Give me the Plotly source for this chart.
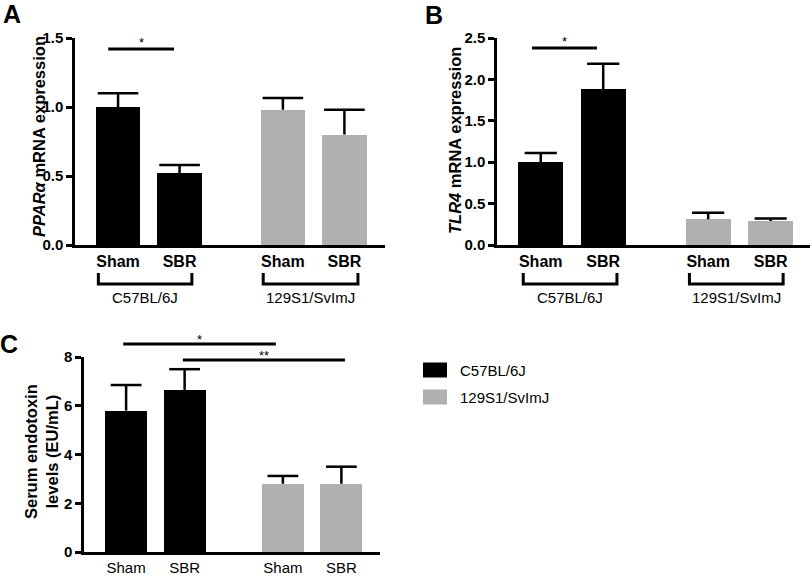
import plotly.graph_objects as go

# ---------------- data ----------------
groups = ["Sham", "SBR", "Sham", "SBR"]
strains = ["C57BL/6J", "129S1/SvImJ"]
bar_strain = [0, 0, 1, 1]

ppar_mean = [1.00, 0.52, 0.98, 0.80]
ppar_sem = [0.10, 0.06, 0.085, 0.18]

tlr4_mean = [1.00, 1.88, 0.31, 0.29]
tlr4_sem = [0.11, 0.31, 0.08, 0.03]

endo_mean = [5.80, 6.65, 2.80, 2.80]
endo_sem = [1.05, 0.85, 0.32, 0.70]

# significance lines: (x start, x end, level, label)
sig_A = [(-0.16, 0.91, 1.42, "*")]
sig_B = [(-0.14, 0.90, 2.38, "*")]
sig_C = [(-0.05, 2.56, 8.53, "*"), (0.97, 3.74, 7.88, "**")]

# ---------------- layout constants ----------------
W, H = 810, 579
pos = [0, 1, 2.68, 3.68]
strain_colors = ["#000000", "#b0b0b0"]
FONT = "Liberation Sans, Arial, sans-serif"


def fx(p):
    return p / W


def fy(p):
    return 1 - p / H


panels = [
    dict(mean=ppar_mean, sem=ppar_sem, sig=sig_A, xd=(75, 385), yd=(38, 245),
         xr=(-0.70, 4.34), yr=(0, 1.5), tv=[0, 0.5, 1.0, 1.5], fmt=".1f", capw=29,
         boldx=True, brackets=[(-0.32, 1.20), (2.36, 3.90)]),
    dict(mean=tlr4_mean, sem=tlr4_sem, sig=sig_B, xd=(497, 810), yd=(38, 245),
         xr=(-0.70, 4.31), yr=(0, 2.5), tv=[0, 0.5, 1.0, 1.5, 2.0, 2.5], fmt=".1f", capw=23,
         boldx=True, brackets=[(-0.28, 1.22), (2.38, 3.88)]),
    dict(mean=endo_mean, sem=endo_sem, sig=sig_C, xd=(84, 380), yd=(357, 552),
         xr=(-0.72, 4.34), yr=(0, 8), tv=[0, 2, 4, 6, 8], fmt="d", capw=22,
         boldx=False, brackets=[]),
]

fig = go.Figure()
shapes = []
annotations = []

for i, p in enumerate(panels):
    sfx = "" if i == 0 else str(i + 1)
    xa, ya = "x" + sfx, "y" + sfx
    fig.add_trace(go.Bar(
        x=pos, y=p["mean"], width=0.72,
        marker=dict(color=[strain_colors[s] for s in bar_strain], line=dict(width=0)),
        xaxis=xa, yaxis=ya, showlegend=False, hoverinfo="skip",
    ))
    # upper-only error bars: stem from bar top to mean+SEM, cap at top
    tops = [m + s for m, s in zip(p["mean"], p["sem"])]
    fig.add_trace(go.Scatter(
        x=pos, y=tops, mode="markers",
        marker=dict(symbol="line-ew-open", size=p["capw"], color="black",
                    line=dict(width=2.5, color="black")),
        error_y=dict(type="data", symmetric=False, array=[0] * len(tops),
                     arrayminus=p["sem"], width=0, thickness=2.5, color="black"),
        cliponaxis=False, xaxis=xa, yaxis=ya, showlegend=False, hoverinfo="skip",
    ))
    ticktext = [f"<b>{g}</b>" if p["boldx"] else g for g in groups]
    fig.layout["xaxis" + sfx] = dict(
        domain=[fx(p["xd"][0]), fx(p["xd"][1])], range=list(p["xr"]),
        anchor=ya, tickvals=pos, ticktext=ticktext, ticks="",
        tickfont=dict(family=FONT, size=16 if p["boldx"] else 15, color="black"),
        showline=True, linewidth=2.5, linecolor="black",
        showgrid=False, zeroline=False, fixedrange=True, automargin=False,
    )
    fig.layout["yaxis" + sfx] = dict(
        domain=[fy(p["yd"][1]), fy(p["yd"][0])], range=list(p["yr"]),
        anchor=xa, tickvals=p["tv"], tickformat=p["fmt"],
        ticks="outside", ticklen=6, tickwidth=2.5, tickcolor="black",
        tickfont=dict(family=FONT, size=15, color="black", weight="bold"),
        showline=True, linewidth=2.5, linecolor="black",
        showgrid=False, zeroline=False, fixedrange=True, automargin=False,
    )

    def xdom(v, p=p):
        return (v - p["xr"][0]) / (p["xr"][1] - p["xr"][0])

    def ydom(v, p=p):
        return (v - p["yr"][0]) / (p["yr"][1] - p["yr"][0])

    for (x0, x1, lvl, lab) in p["sig"]:
        shapes.append(dict(type="line", xref=xa + " domain", yref=ya + " domain",
                           x0=xdom(x0), x1=xdom(x1), y0=ydom(lvl), y1=ydom(lvl),
                           line=dict(color="black", width=3)))
        annotations.append(dict(x=xdom((x0 + x1) / 2), y=ydom(lvl),
                                xref=xa + " domain", yref=ya + " domain",
                                text=lab, showarrow=False, xanchor="center",
                                yanchor="bottom", yshift=-3 if i < 2 else -5,
                                font=dict(family=FONT, size=13, color="black")))

    for k, (b0, b1) in enumerate(p["brackets"]):
        yt, yb = fy(273), fy(284)
        shapes.append(dict(type="path", xref=xa + " domain", yref="paper",
                           path=f"M {xdom(b0)},{yt} L {xdom(b0)},{yb} L {xdom(b1)},{yb} L {xdom(b1)},{yt}",
                           line=dict(color="black", width=3)))
        annotations.append(dict(x=xdom((b0 + b1) / 2), y=fy(297), xref=xa + " domain",
                                yref="paper", text=strains[k], showarrow=False,
                                xanchor="center", yanchor="middle",
                                font=dict(family=FONT, size=15, color="black")))

# y axis titles
for tx, ty, txt in [(39, 137, "<b><i>PPARα</i> mRNA expression</b>"),
                    (455, 141, "<b><i>TLR4</i> mRNA expression</b>"),
                    (41, 452, "<b>Serum endotoxin<br>levels (EU/mL)</b>")]:
    annotations.append(dict(x=fx(tx), y=fy(ty), xref="paper", yref="paper", textangle=-90,
                            text=txt, showarrow=False, xanchor="center", yanchor="middle",
                            font=dict(family=FONT, size=16.5, color="black")))

# panel letters
for letter, (lx, ly) in zip(["A", "B", "C"], [(12, 14), (434, 15), (9, 344)]):
    annotations.append(dict(x=fx(lx), y=fy(ly), xref="paper", yref="paper", text=f"<b>{letter}</b>",
                            showarrow=False, xanchor="center", yanchor="middle",
                            font=dict(family=FONT, size=25, color="black")))

# legend
for k, name in enumerate(strains):
    cy = 370 + 27 * k
    shapes.append(dict(type="rect", xref="paper", yref="paper",
                       x0=fx(423), x1=fx(447), y0=fy(cy - 7.5), y1=fy(cy + 7.5),
                       fillcolor=strain_colors[k], line=dict(width=0)))
    annotations.append(dict(x=fx(458), y=fy(cy), xref="paper", yref="paper", text=name,
                            xanchor="left", yanchor="middle", showarrow=False,
                            font=dict(family=FONT, size=15, color="black")))

fig.update_layout(
    width=W, height=H, margin=dict(l=0, r=0, t=0, b=0, pad=0),
    paper_bgcolor="white", plot_bgcolor="white",
    shapes=shapes, annotations=annotations, bargap=0,
    font=dict(family=FONT, color="black"),
)

fig.write_html(
    "out.html",
    config={"displayModeBar": False},
    post_script="document.body.style.margin='0';document.body.style.overflow='hidden';",
)
